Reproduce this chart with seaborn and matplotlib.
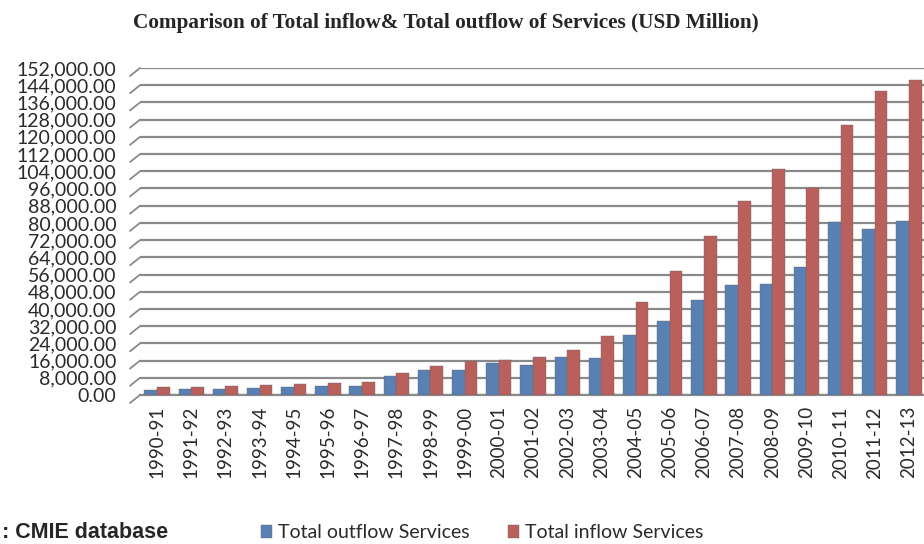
import numpy as np
import pandas as pd
import seaborn as sns
import matplotlib.pyplot as plt
from matplotlib.ticker import FuncFormatter

years = ["1990-91", "1991-92", "1992-93", "1993-94", "1994-95", "1995-96",
         "1996-97", "1997-98", "1998-99", "1999-00", "2000-01", "2001-02",
         "2002-03", "2003-04", "2004-05", "2005-06", "2006-07", "2007-08",
         "2008-09", "2009-10", "2010-11", "2011-12", "2012-13"]
outflow = [2400, 2700, 2800, 3100, 3600, 4400, 4200, 8900, 11700, 11700,
           15100, 14100, 17600, 17100, 27900, 34600, 44200, 50900, 51600,
           59700, 80600, 77100, 80800]
inflow = [3500, 3900, 4400, 4700, 5200, 5800, 5900, 10100, 13700, 16000,
          16300, 17600, 21000, 27200, 43300, 57500, 73700, 90200, 105100,
          96000, 125500, 141500, 146200]
series = ["Total outflow Services", "Total inflow Services"]

df = pd.DataFrame({"year": years * 2,
                   "value": outflow + inflow,
                   "series": [series[0]] * len(years) + [series[1]] * len(years)})

sns.set_style("white")
plt.rcParams["font.family"] = ["Lato", "DejaVu Sans"]

fig = plt.figure(figsize=(9.24, 5.44), dpi=100)
ax = fig.add_axes([140 / 924, 149 / 544, 786 / 924, 327 / 544])

sns.barplot(data=df, x="year", y="value", hue="series",
            palette=["#4A7EC2", "#C9504C"], width=0.74, gap=0,
            edgecolor="#6b6b6b", linewidth=0.3, ax=ax, legend=True, zorder=3)

ax.set_ylim(0, 152000)
ax.set_xlim(-0.5, 22.5)
ticks = np.arange(0, 152001, 8000)
ax.set_yticks(ticks)
ax.yaxis.set_major_formatter(FuncFormatter(lambda v, p: f"{v:,.2f}"))
ax.grid(axis="y", color="#8a8a8a", linewidth=1.6, zorder=0)
ax.set_axisbelow(True)
ax.tick_params(axis="y", length=0, labelsize=14, colors="#2a2a2a", pad=17)
ax.tick_params(axis="x", length=0, labelsize=13.5, colors="#2a2a2a", pad=8, rotation=90)
ax.set_xlabel("")
ax.set_ylabel("")
for s in ["top", "right", "left"]:
    ax.spines[s].set_visible(False)
ax.spines["bottom"].set_color("#8a8a8a")
ax.spines["bottom"].set_linewidth(1.6)

# short slanted stubs on the side wall, like the 3D original
for t in ticks:
    f = t / 152000
    ax.plot([-10 / 786, 0], [f - 8 / 327, f], transform=ax.transAxes,
            color="#8a8a8a", lw=1.3, clip_on=False)

handles, labels = ax.get_legend_handles_labels()
ax.get_legend().remove()
fig.legend(handles, labels, loc="center", bbox_to_anchor=(482 / 924, 11 / 544),
           ncol=2, frameon=False, fontsize=14, handlelength=0.55, handleheight=0.6,
           handletextpad=0.3, columnspacing=2.0, labelcolor="#2a2a2a")

fig.text(446 / 924, 1 - 23 / 544,
         "Comparison of Total inflow& Total outflow of Services (USD Million)",
         ha="center", va="center", fontsize=15.3, fontweight="bold",
         family=["Liberation Serif", "DejaVu Serif"])
fig.text(2 / 924, 1 - 522 / 544, ": CMIE database", ha="left", va="top",
         fontsize=15.5, fontweight="bold", family=["Liberation Sans", "DejaVu Sans"])

fig.savefig("out.png", dpi=100)
